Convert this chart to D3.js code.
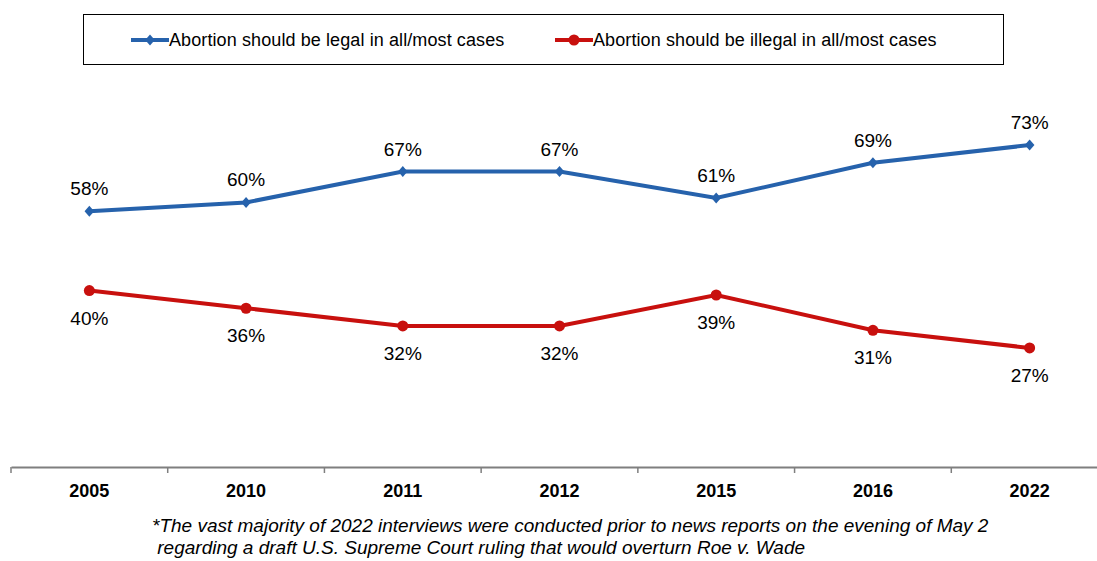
<!DOCTYPE html>
<html><head><meta charset="utf-8">
<script src="https://cdn.jsdelivr.net/npm/d3@7"></script>
<style>body{margin:0;background:#fff}svg{display:block}</style>
</head><body>
<svg id="c" width="1097" height="561"></svg>
<script>
const categories = ["2005","2010","2011","2012","2015","2016","2022"];
const legalValues = [58,60,67,67,61,69,73];
const illegalValues = [40,36,32,32,39,31,27];
const seriesNames = ["Abortion should be legal in all/most cases","Abortion should be illegal in all/most cases"];
const footnoteLines = ["*The vast majority of 2022 interviews were conducted prior to news reports on the evening of May 2"," regarding a draft U.S. Supreme Court ruling that would overturn Roe v. Wade"];

const svg = d3.select("#c");
const font = "Arial, 'Liberation Sans', sans-serif";
const blue = "#2662AC", red = "#C8100E";

const x = d3.scaleBand().domain(categories).range([11, 1108]);
const y = d3.scaleLinear().domain([0,100]).range([467, 26]);

// axis
const ax = svg.append("g").attr("transform","translate(0,467)")
  .call(d3.axisBottom(x).tickSize(0).tickFormat(""));
ax.select(".domain").attr("stroke","#7f7f7f").attr("stroke-width",2);
const edges = d3.range(categories.length+1).map(i => 11 + i*x.bandwidth());
svg.append("g").selectAll("line").data(edges).join("line")
  .attr("x1",d=>d).attr("x2",d=>d).attr("y1",467).attr("y2",473)
  .attr("stroke","#7f7f7f").attr("stroke-width",1.5);
svg.append("g").selectAll("text").data(categories).join("text")
  .attr("x",d=>x(d)+x.bandwidth()/2).attr("y",497)
  .attr("text-anchor","middle").attr("font-family",font).attr("font-weight","bold")
  .attr("font-size",18).text(d=>d);

const cx = d => x(d)+x.bandwidth()/2;
const line = d3.line().x((d,i)=>cx(categories[i])).y(d=>y(d));

svg.append("path").datum(legalValues).attr("d",line).attr("fill","none")
  .attr("stroke",blue).attr("stroke-width",4);
svg.append("path").datum(illegalValues).attr("d",line).attr("fill","none")
  .attr("stroke",red).attr("stroke-width",4);

const diamondPath = "M0,-5.5L4.8,0L0,5.5L-4.8,0Z";
svg.append("g").selectAll("path").data(legalValues).join("path")
  .attr("d",diamondPath).attr("fill",blue)
  .attr("transform",(d,i)=>`translate(${cx(categories[i])},${y(d)})`);
svg.append("g").selectAll("circle").data(illegalValues).join("circle")
  .attr("cx",(d,i)=>cx(categories[i])).attr("cy",d=>y(d)).attr("r",5.5).attr("fill",red);

svg.append("g").selectAll("text").data(legalValues).join("text")
  .attr("x",(d,i)=>cx(categories[i])).attr("y",d=>y(d)-16)
  .attr("text-anchor","middle").attr("font-family",font).attr("font-size",19)
  .text(d=>d+"%");
svg.append("g").selectAll("text").data(illegalValues).join("text")
  .attr("x",(d,i)=>cx(categories[i])).attr("y",d=>y(d)+34)
  .attr("text-anchor","middle").attr("font-family",font).attr("font-size",19)
  .text(d=>d+"%");

// legend
const lg = svg.append("g");
lg.append("rect").attr("x",83.5).attr("y",14.5).attr("width",920).attr("height",50)
  .attr("fill","#fff").attr("stroke","#000").attr("stroke-width",1);
const legendItems = [{name:seriesNames[0],color:blue,x0:131,type:"d"},{name:seriesNames[1],color:red,x0:555,type:"c"}];
legendItems.forEach(it=>{
  lg.append("line").attr("x1",it.x0).attr("x2",it.x0+38).attr("y1",40).attr("y2",40)
    .attr("stroke",it.color).attr("stroke-width",4);
  if(it.type==="d") lg.append("path").attr("d",diamondPath)
    .attr("fill",it.color).attr("transform",`translate(${it.x0+19},40)`);
  else lg.append("circle").attr("cx",it.x0+19).attr("cy",40).attr("r",5.5).attr("fill",it.color);
  lg.append("text").attr("x",it.x0+38).attr("y",46).attr("font-family",font).attr("font-size",18)
    .attr("letter-spacing",0.1).text(it.name);
});

svg.append("g").selectAll("text").data(footnoteLines).join("text")
  .attr("x",152).attr("y",(d,i)=>532+i*22).attr("font-family",font).attr("font-style","italic")
  .attr("font-size",19).attr("xml:space","preserve").style("white-space","pre").text(d=>d);
</script>
</body></html>
